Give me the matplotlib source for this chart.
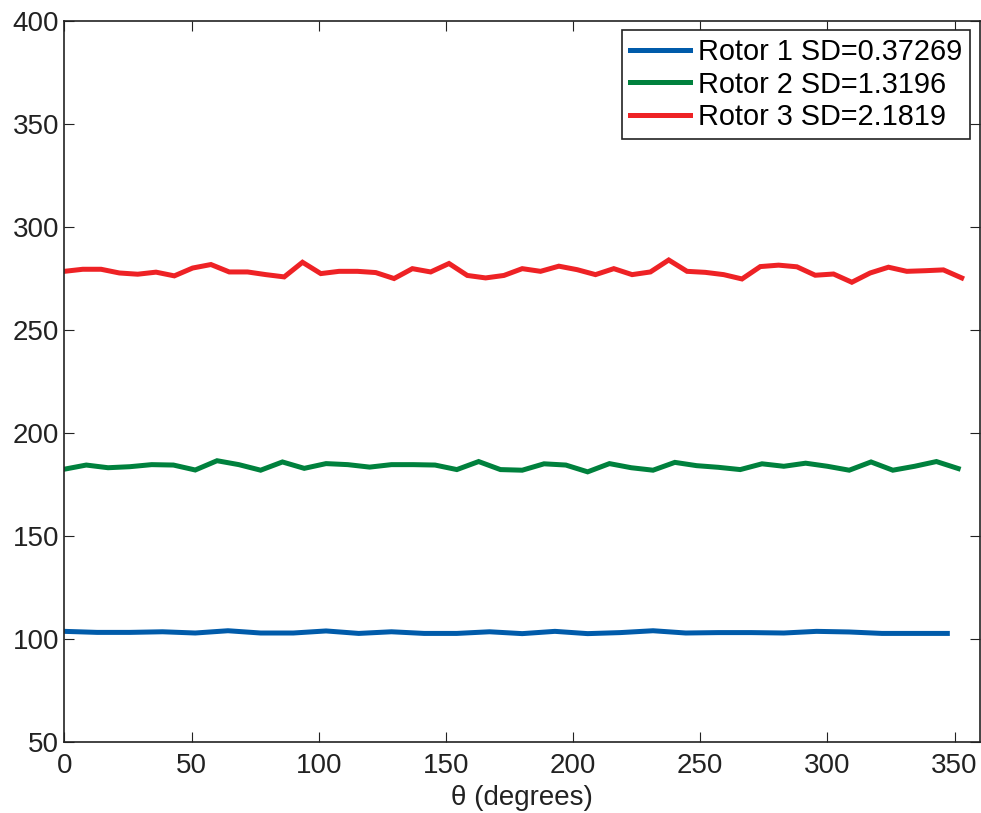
import numpy as np
import matplotlib
matplotlib.use('Agg')
import matplotlib.pyplot as plt

plt.rcParams['font.family'] = ['Liberation Sans', 'DejaVu Sans']

# ------------------------------------------------------------
# data
# ------------------------------------------------------------
rotor1 = [103.7, 103.2, 103.2, 103.5, 102.9, 104.0, 102.9, 102.9, 103.9, 102.7,
          103.5, 102.7, 102.7, 103.5, 102.6, 103.7, 102.6, 103.1, 104.0, 102.9,
          103.1, 103.1, 102.9, 103.7, 103.4, 102.7, 102.7, 102.7]
rotor2 = [182.4, 184.4, 183.1, 183.6, 184.6, 184.4, 182.0, 186.5, 184.6, 181.9,
          185.9, 182.8, 185.1, 184.6, 183.4, 184.6, 184.6, 184.4, 182.2, 186.1,
          182.2, 181.9, 185.0, 184.4, 181.1, 185.1, 183.1, 181.9, 185.7, 184.1,
          183.3, 182.2, 185.0, 183.8, 185.3, 183.8, 181.9, 185.9, 181.9, 183.8,
          186.1, 182.7]
rotor3 = [278.4, 279.4, 279.4, 277.6, 277.0, 278.0, 276.2, 280.0, 281.7, 278.1,
          278.1, 276.8, 275.7, 282.8, 277.3, 278.4, 278.4, 277.8, 274.9, 279.7,
          278.1, 282.2, 276.4, 275.2, 276.4, 279.7, 278.4, 280.9, 279.2, 276.8,
          279.7, 276.8, 278.1, 283.9, 278.4, 277.9, 276.8, 274.7, 280.7, 281.4,
          280.6, 276.5, 277.1, 273.1, 277.6, 280.4, 278.4, 278.7, 279.1, 275.2]

labels = ['Rotor 1 SD=0.37269', 'Rotor 2 SD=1.3196', 'Rotor 3 SD=2.1819']
colors = ['#005BAA', '#00813D', '#EE2225']
series = [rotor1, rotor2, rotor3]

xticks = [0, 50, 100, 150, 200, 250, 300, 350]
yticks = [50, 100, 150, 200, 250, 300, 350, 400]

# ------------------------------------------------------------
# plot
# ------------------------------------------------------------
fig = plt.figure(figsize=(9.81, 8.13), dpi=100)
ax = fig.add_axes([0.0657, 0.0873, 0.9333, 0.8872])

for vals, lab, col in zip(series, labels, colors):
    n = len(vals)
    theta = np.arange(n) * 360.0 / n
    ax.plot(theta, vals, color=col, lw=3.6, label=lab, solid_joinstyle='miter')

ax.set_xlim(0, 360)
ax.set_ylim(50, 400)
ax.set_xticks(xticks)
ax.set_yticks(yticks)
ax.tick_params(direction='in', length=7, width=0.8, labelsize=20,
               top=True, right=True, colors='#222222', pad=4)
ax.tick_params(axis='x', pad=8)
for s in ax.spines.values():
    s.set_linewidth(1.2)
    s.set_color('#222222')

ax.set_xlabel('θ (degrees)', fontsize=20, labelpad=4, color='#222222')

leg = ax.legend(loc='upper right', bbox_to_anchor=(0.989, 0.987), borderaxespad=0,
                fontsize=20.8, fancybox=False, framealpha=1, edgecolor='#222222',
                handlelength=2.05, handletextpad=0.28, labelspacing=0.15,
                borderpad=0.28)
leg.get_frame().set_linewidth(1.2)

fig.savefig('out.png', dpi=100)
